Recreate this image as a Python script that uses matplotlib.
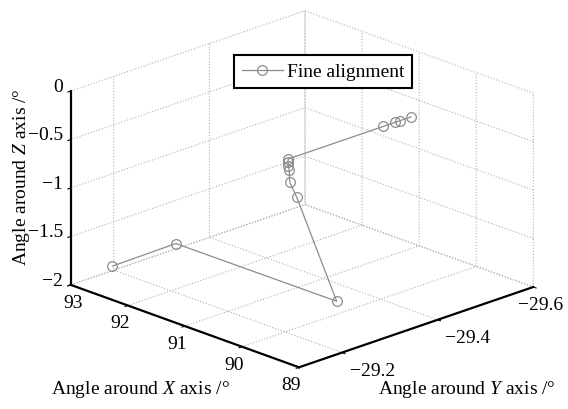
import matplotlib
matplotlib.use('Agg')
import matplotlib.pyplot as plt

# Angle history during fine alignment (degrees)
angle_x = [92.63, 92.65, 89.84, 90.55, 90.67, 90.68, 90.70, 90.70, 90.70, 90.70, 90.70, 90.70, 90.70]
angle_y = [-29.153, -29.288, -29.289, -29.29, -29.29, -29.29, -29.29, -29.29, -29.29,
           -29.489, -29.514, -29.524, -29.547]
angle_z = [-1.8, -1.8, -1.8, -0.877, -0.751, -0.624, -0.587, -0.547, -0.517,
           -0.517, -0.517, -0.517, -0.517]

x_ticks = [89, 90, 91, 92, 93]
y_ticks = [-29.6, -29.4, -29.2]
z_ticks = [-2, -1.5, -1, -0.5, 0]

plt.rcParams['font.family'] = 'Liberation Serif'
plt.rcParams['mathtext.fontset'] = 'custom'
plt.rcParams['mathtext.rm'] = 'Liberation Serif'
plt.rcParams['mathtext.it'] = 'Liberation Serif:italic'
plt.rcParams['font.size'] = 14
plt.rcParams['axes.linewidth'] = 1.6
plt.rcParams['grid.color'] = '#b0b0b0'
plt.rcParams['grid.linestyle'] = ':'
plt.rcParams['grid.linewidth'] = 0.8

fig = plt.figure(figsize=(5.68, 4.10), dpi=100)
ax = fig.add_axes([0.022, 0.023, 1.0, 1.0], projection='3d')
ax.set_proj_type('ortho')
ax.view_init(elev=20.6, azim=135.74)
ax.set_box_aspect((1, 1, 0.633), zoom=1.2)

ax.plot(angle_x, angle_y, angle_z, color='#8c8c8c', lw=0.9, marker='o', ms=7,
        mfc='none', mec='#8c8c8c', mew=0.9, label='Fine alignment')

ax.set_xlim(89, 93)
ax.set_ylim(-29.6, -29.11)
ax.set_zlim(-2, 0)
ax.set_xticks(x_ticks)
ax.set_yticks(y_ticks)
ax.set_zticks(z_ticks)
ax.set_xticklabels([str(v) for v in x_ticks])
ax.set_yticklabels(['\u2212%.1f' % abs(v) for v in y_ticks])
ax.set_zticklabels(['\u2212%g' % abs(v) if v < 0 else '0' for v in z_ticks])

for axis in (ax.xaxis, ax.yaxis, ax.zaxis):
    axis.set_pane_color((1, 1, 1, 0))
    axis.pane.set_edgecolor((1, 1, 1, 0))
    axis._axinfo['grid'].update(color='#b0b0b0', linestyle=':', linewidth=0.8)
    axis._axinfo['axisline']['color'] = 'k'
    axis._axinfo['tick']['inward_factor'] = 0.15
    axis._axinfo['tick']['outward_factor'] = 0.0
ax.zaxis.set_ticks_position('upper')
ax.tick_params(colors='k', labelsize=14)
ax.xaxis.set_tick_params(pad=-3)
ax.yaxis.set_tick_params(pad=-3)
ax.zaxis.set_tick_params(pad=-5.5)

ax.get_xticklabels()[4].set_ha('left')
ylabels = ax.get_yticklabels()
ylabels[1].set_ha('left')
ylabels[2].set_ha('left')
for tick in ax.zaxis.get_major_ticks():
    for lbl in (tick.label1, tick.label2):
        lbl.set_ha('right')
        lbl.set_va('baseline')

fig.text(0.247, 0.05, 'Angle around $X$ axis /\u00b0', ha='center', va='center', fontsize=14)
fig.text(0.822, 0.05, 'Angle around $Y$ axis /\u00b0', ha='center', va='center', fontsize=14)
fig.text(0.037, 0.567, 'Angle around $Z$ axis /\u00b0', ha='center', va='center',
         rotation=90, fontsize=14)

ax.legend(loc='center', bbox_to_anchor=(0.569, 0.823), bbox_transform=fig.transFigure,
          fancybox=False, edgecolor='k', framealpha=1, handlelength=2.1,
          handletextpad=0.2, borderpad=0.4, fontsize=14).get_frame().set_linewidth(1.5)

fig.savefig('out.png', dpi=100)
